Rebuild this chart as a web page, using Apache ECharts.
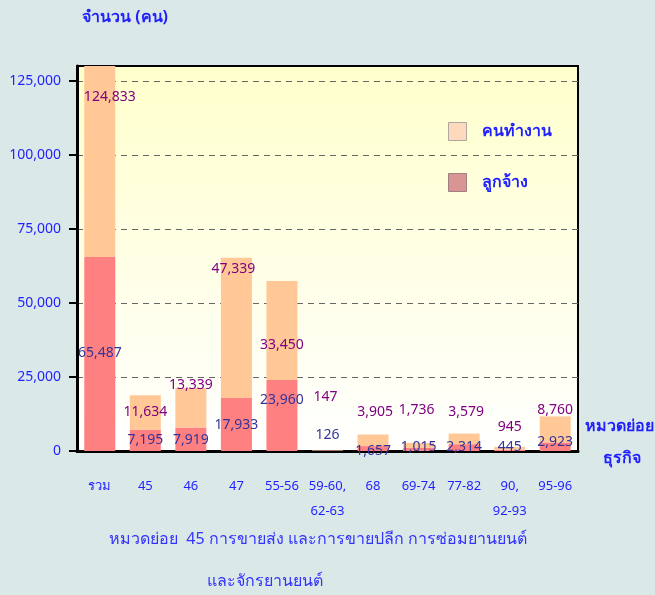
<!DOCTYPE html>
<html>
<head>
<meta charset="utf-8">
<script src="https://cdn.jsdelivr.net/npm/echarts@6/dist/echarts.min.js"></script>
<style>
  html, body { margin: 0; padding: 0; background: #dae8e8; }
  #main { width: 655px; height: 595px; }
</style>
</head>
<body>
<div id="main"></div>
<script>
    // หมวดย่อยธุรกิจ
    var categories = ['รวม', '45', '46', '47', '55-56', '59-60,\n62-63', '68', '69-74', '77-82', '90,\n92-93', '95-96'];
    // ลูกจ้าง
    var employees = [65487, 7195, 7919, 17933, 23960, 126, 1657, 1015, 2314, 445, 2923];
    // คนทำงาน
    var workers = [124833, 11634, 13339, 47339, 33450, 147, 3905, 1736, 3579, 945, 8760];
    var yTicks = [0, 25000, 50000, 75000, 100000, 125000];

    // ตำแหน่งป้ายตัวเลข (ปรับด้วยมือให้ตรงกับภาพ)
    var empLabelDy = [-91, -4, -4, -19, -44, -9, 7, 3, 3, 3, -2];
    var wrkLabelDy = [-153, -11, -36, -122, -28, -47, -27, -31, -25, -16, -25];
    var wrkLabelDx = [10, 0, 0, -3, 0, -2, 2, -2, 2, 0, 0];

    var font = 'Tahoma, "Noto Sans", "DejaVu Sans", sans-serif';
    var blue = '#1f1fff';

    function fmt(v) {
        return String(v).replace(/\B(?=(\d{3})+(?!\d))/g, ',');
    }

    var myChart = echarts.init(document.getElementById('main'));
    var option = {
        backgroundColor: '#dae8e8',
        animation: false,
        textStyle: { fontFamily: font },
        title: [
            { text: 'จำนวน (คน)', left: 77, top: 4,
              textStyle: { color: blue, fontSize: 16, fontWeight: 'bold', fontFamily: font } },
            { text: 'หมวดย่อย  45 การขายส่ง และการขายปลีก การซ่อมยานยนต์', left: 104, top: 526,
              textStyle: { color: '#3333ff', fontSize: 16, fontWeight: 'normal', fontFamily: font } },
            { text: 'และจักรยานยนต์', left: 202, top: 568,
              textStyle: { color: '#3333ff', fontSize: 16, fontWeight: 'normal', fontFamily: font } }
        ],
        graphic: [
            { type: 'text', left: 585, top: 418,
              style: { text: 'หมวดย่อย', fill: blue, font: 'bold 16px ' + font } },
            { type: 'text', left: 603, top: 450,
              style: { text: 'ธุรกิจ', fill: blue, font: 'bold 16px ' + font } }
        ],
        legend: {
            orient: 'vertical',
            left: 448,
            top: 122,
            padding: 0,
            itemWidth: 18,
            itemHeight: 18,
            itemGap: 32,
            icon: 'rect',
            textStyle: { color: blue, fontSize: 16, fontWeight: 'bold', padding: [0, 0, 0, 10], fontFamily: font },
            data: [
                { name: 'คนทำงาน', itemStyle: { color: '#fddabe', borderColor: '#b0a8a0', borderWidth: 1 } },
                { name: 'ลูกจ้าง', itemStyle: { color: '#d99594', borderColor: '#a08080', borderWidth: 1 } }
            ]
        },
        grid: {
            left: 77,
            right: 77,
            top: 66,
            bottom: 144,
            show: true,
            borderColor: '#000',
            borderWidth: 2,
            backgroundColor: {
                type: 'linear', x: 0, y: 0, x2: 0, y2: 1,
                colorStops: [
                    { offset: 0, color: '#ffffcc' },
                    { offset: 1, color: '#ffffff' }
                ]
            }
        },
        xAxis: {
            type: 'category',
            data: categories,
            axisLine: { lineStyle: { color: '#000', width: 3 } },
            axisTick: { length: 8, lineStyle: { color: '#000', width: 2 } },
            axisLabel: { interval: 0, color: blue, fontSize: 13, margin: 23, lineHeight: 25, fontFamily: font }
        },
        yAxis: {
            type: 'value',
            min: 0,
            max: 130000,
            interval: 25000,
            axisLine: { show: true, lineStyle: { color: '#000', width: 3 } },
            axisTick: { show: true, length: 8, lineStyle: { color: '#000', width: 2 }, customValues: yTicks },
            axisLabel: { color: blue, fontSize: 14, margin: 16, customValues: yTicks, fontFamily: font,
                         formatter: function (v) { return fmt(v); } },
            splitLine: { show: true, lineStyle: { color: '#666', type: [6, 5], width: 1 } }
        },
        series: [
            {
                name: 'ลูกจ้าง',
                type: 'bar',
                stack: 'total',
                barWidth: 31,
                data: employees.map(function (v, i) {
                    return { value: v, label: { offset: [0, empLabelDy[i]] } };
                }),
                itemStyle: { color: '#ff8080' },
                label: {
                    show: true,
                    position: 'insideBottom',
                    distance: 0,
                    color: '#333399',
                    fontSize: 14,
                    fontFamily: font,
                    formatter: function (p) { return fmt(p.value); }
                }
            },
            {
                name: 'คนทำงาน',
                type: 'bar',
                stack: 'total',
                barWidth: 31,
                data: workers.map(function (v, i) {
                    return { value: v, label: { offset: [wrkLabelDx[i], wrkLabelDy[i]] } };
                }),
                itemStyle: { color: '#ffc896' },
                label: {
                    show: true,
                    position: 'insideBottom',
                    distance: 0,
                    color: '#800080',
                    fontSize: 14,
                    fontFamily: font,
                    formatter: function (p) { return fmt(p.value); }
                }
            }
        ]
    };
    myChart.setOption(option);
</script>
</body>
</html>
